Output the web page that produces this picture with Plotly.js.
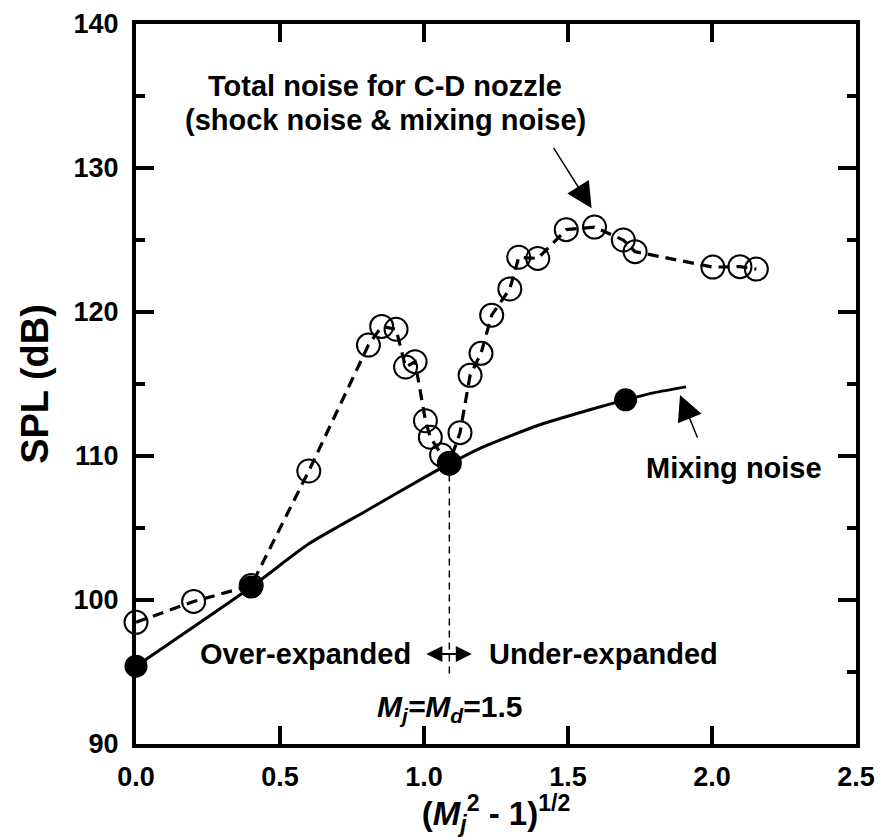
<!DOCTYPE html>
<html>
<head>
<meta charset="utf-8">
<script src="https://cdn.plot.ly/plotly-3.0.1.min.js"></script>
<style>
  html, body { margin: 0; padding: 0; background: #fff; }
  #chart { width: 883px; height: 837px; }
</style>
</head>
<body>
<div id="chart"></div>
<script>
// Total noise of the C-D nozzle (shock + mixing), open circles joined by a dashed line
const totalX = [0.0, 0.2, 0.4, 0.6, 0.807, 0.853, 0.903, 0.936, 0.969, 1.005, 1.022, 1.061, 1.088,
                1.125, 1.16, 1.198, 1.235, 1.298, 1.329, 1.395, 1.494, 1.592, 1.692, 1.733,
                2.003, 2.097, 2.154];
const totalY = [98.45, 99.9, 101.0, 108.96, 117.7, 119.0, 118.8, 116.18, 116.55, 112.45, 111.3, 110.07, 109.5,
                111.62, 115.6, 117.13, 119.78, 121.6, 123.8, 123.72, 125.72, 125.9, 125.0, 124.19,
                123.12, 123.15, 122.98];

// Mixing noise: measured points (filled) and the fitted curve through them
const mixX = [0.0, 0.4, 1.088, 1.7];
const mixY = [95.4, 100.9, 109.45, 113.9];
const mixCurveX = [0.0, 0.4, 0.6, 0.8, 1.0, 1.088, 1.2, 1.4, 1.6, 1.7, 1.8, 1.91];
const mixCurveY = [95.4, 100.9, 103.9, 106.2, 108.5, 109.45, 110.58, 112.15, 113.35, 113.9, 114.4, 114.8];

// Perfectly expanded condition, Mj = Md = 1.5
const designX = [1.088, 1.088];
const designY = [94.9, 109.45];

// Axis ticks
const xTickVals = [0.0, 0.5, 1.0, 1.5, 2.0, 2.5];
const xTickText = ['0.0', '0.5', '1.0', '1.5', '2.0', '2.5'];
const yTickVals = [90, 100, 110, 120, 130, 140];
const yTickText = ['90', '100', '110', '120', '130', '140'];

const FONT = 'Liberation Sans, Arial, Helvetica, sans-serif';
const boldFont = (size) => ({ family: FONT, size: size, color: '#000', weight: 'bold' });

const traces = [
  {
    x: designX, y: designY, mode: 'lines', hoverinfo: 'skip',
    line: { color: '#000', width: 1.5, dash: '7px,5px' }
  },
  {
    x: mixCurveX, y: mixCurveY, mode: 'lines', hoverinfo: 'skip',
    line: { color: '#000', width: 3, shape: 'spline', smoothing: 0.6 }
  },
  {
    x: totalX, y: totalY, mode: 'lines+markers', cliponaxis: false,
    line: { color: '#000', width: 3.2, dash: '11px,7px' },
    marker: { symbol: 'circle-open', size: 23, color: '#000', line: { width: 2, color: '#000' } }
  },
  {
    x: mixX, y: mixY, mode: 'markers', cliponaxis: false,
    marker: { symbol: 'circle', size: 23, color: '#000' }
  }
];

const axisCommon = {
  showgrid: false, zeroline: false,
  showline: true, linecolor: '#000', linewidth: 4, mirror: 'ticks',
  ticks: 'inside', ticklen: 18, tickwidth: 4, tickcolor: '#000',
  tickfont: boldFont(27), fixedrange: true, automargin: false
};

const layout = {
  width: 883, height: 837,
  margin: { l: 136, r: 27, t: 24, b: 93 },
  paper_bgcolor: '#fff', plot_bgcolor: '#fff',
  showlegend: false,
  xaxis: Object.assign({}, axisCommon, {
    range: [0, 2.5], tickmode: 'array', tickvals: xTickVals, ticktext: xTickText,
    ticklabelstandoff: 6,
    title: { text: '(<i>M</i><sub><i>j</i></sub><sup>2</sup> - 1)<sup>1/2</sup>', font: boldFont(33), standoff: 10 }
  }),
  yaxis: Object.assign({}, axisCommon, {
    range: [90, 140], tickmode: 'array', tickvals: yTickVals, ticktext: yTickText,
    ticklabelstandoff: 8,
    minor: { ticks: 'inside', ticklen: 9, tickwidth: 4, tickcolor: '#000', dtick: 5, showgrid: false },
    title: { text: 'SPL (dB)', font: boldFont(38), standoff: 14 }
  }),
  annotations: [
    { x: 0.865, y: 135.7, xref: 'x', yref: 'y', text: 'Total noise for C-D nozzle',
      showarrow: false, font: boldFont(29), xanchor: 'center', yanchor: 'middle' },
    { x: 0.865, y: 133.35, xref: 'x', yref: 'y', text: '(shock noise &amp; mixing noise)',
      showarrow: false, font: boldFont(29), xanchor: 'center', yanchor: 'middle' },
    { x: 1.582, y: 127.2, xref: 'x', yref: 'y', text: '', showarrow: true,
      ax: -39, ay: -62, arrowhead: 2, arrowsize: 3.4, arrowwidth: 1.5, arrowcolor: '#000' },
    { x: 1.889, y: 114.24, xref: 'x', yref: 'y', text: '', showarrow: true,
      ax: 18, ay: 44, arrowhead: 2, arrowsize: 3.4, arrowwidth: 1.5, arrowcolor: '#000' },
    { x: 2.076, y: 109.17, xref: 'x', yref: 'y', text: 'Mixing noise',
      showarrow: false, font: boldFont(29), xanchor: 'center', yanchor: 'middle' },
    { x: 0.962, y: 96.25, xref: 'x', yref: 'y', text: 'Over-expanded',
      showarrow: false, font: boldFont(29), xanchor: 'right', yanchor: 'middle' },
    { x: 1.219, y: 96.25, xref: 'x', yref: 'y', text: 'Under-expanded',
      showarrow: false, font: boldFont(29), xanchor: 'left', yanchor: 'middle' },
    { x: 1.166, y: 96.25, ax: 1.003, ay: 96.25, xref: 'x', yref: 'y', axref: 'x', ayref: 'y',
      text: '', showarrow: true, arrowside: 'end+start', arrowhead: 2, arrowsize: 1.6,
      arrowwidth: 2, arrowcolor: '#000' },
    { x: 1.09, y: 92.5, xref: 'x', yref: 'y',
      text: '<i>M<sub>j</sub>=M<sub>d</sub></i>=1.5',
      showarrow: false, font: boldFont(30), xanchor: 'center', yanchor: 'middle' }
  ]
};

Plotly.newPlot('chart', traces, layout, { staticPlot: true, displayModeBar: false });
</script>
</body>
</html>
